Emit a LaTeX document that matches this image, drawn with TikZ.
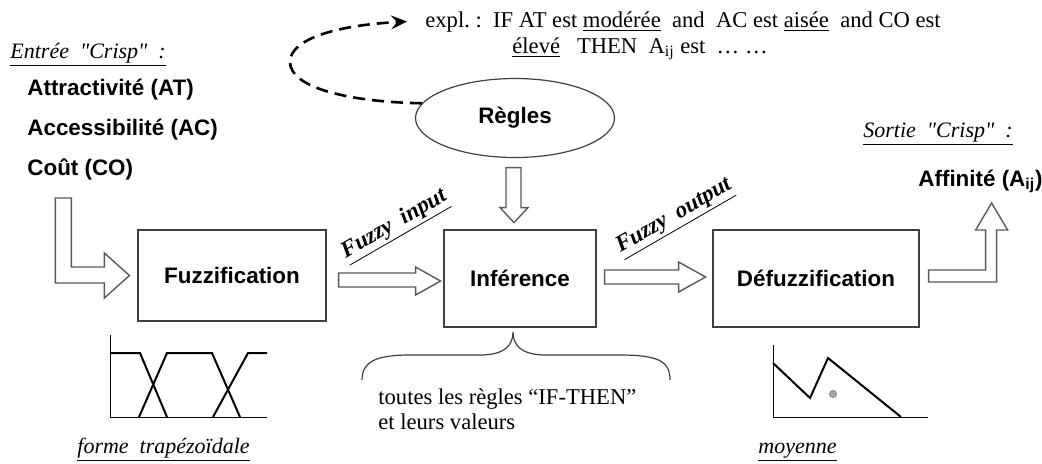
\documentclass[tikz,border=0pt]{standalone}
\usepackage{fontspec}
\setmainfont{Liberation Serif}
\newfontfamily\arialfont{Liberation Sans}
\usetikzlibrary{arrows.meta,calc,shapes.geometric}
\newcommand{\dq}{\XeTeXglyph\XeTeXglyphindex "quotedbl"\relax}

\begin{document}
\begin{tikzpicture}[x=0.5pt, y=-0.5pt,
  procbox/.style={draw=black!75, line width=0.6pt, font=\arialfont\bfseries\fontsize{11.2}{13}\selectfont},
  inlabel/.style={font=\arialfont\bfseries\fontsize{11.2}{13}\selectfont, inner sep=0pt, anchor=base west},
  crisp/.style={font=\itshape\fontsize{11}{13}\selectfont, inner sep=0pt, anchor=base west},
  fuzzy/.style={font=\bfseries\itshape\fontsize{11.5}{13}\selectfont, inner sep=0pt, rotate=30},
  rmtext/.style={font=\fontsize{11.3}{12.5}\selectfont, inner sep=0pt},
  hollow/.style={draw=black!65, line width=0.7pt, fill=white, line join=miter},
  mf/.style={line width=1pt},
  axis/.style={line width=0.5pt}
]
\useasboundingbox (0,0) rectangle (1042,463);

% main blocks
\node[procbox, minimum width=94pt, minimum height=45.5pt] (fuzz) at (232,275.5) {Fuzzification};
\node[procbox, minimum width=76pt, minimum height=48.5pt] (inf) at (520,278.5) {Inférence};
\node[procbox, minimum width=103pt, minimum height=48.5pt] (defuzz) at (816,278.5) {Défuzzification};
\node[procbox, ellipse, minimum width=99.5pt, minimum height=39.5pt] (regles) at (515,118) {Règles};

% crisp input / output
\node[crisp] (entree) at (10,58) {\underline{Entrée~~\dq Crisp\dq~~:}};
\node[inlabel] (at) at (27,95) {Attractivité (AT)};
\node[inlabel] (ac) at (27,135) {Accessibilité (AC)};
\node[inlabel] (co) at (27,175) {Coût (CO)};
\node[crisp] (sortie) at (863,137) {\underline{Sortie~~\dq Crisp\dq~~:}};
\node[inlabel] (aff) at (918,186) {Affinité (A\textsubscript{ij})};

\node[fuzzy] (fin) at (395,226) {\underline{Fuzzy~~input}};
\node[fuzzy] (fout) at (675,218) {\underline{Fuzzy~~output}};

% rule example
\node[rmtext, anchor=base west] (expla) at (425,27) {expl.~:~~IF AT est \underline{modérée}~~and~~AC est \underline{aisée}~~and CO est};
\node[rmtext, anchor=base west] (explb) at (512,53) {\underline{élevé}~~~THEN~~A\textsubscript{ij}~est~~\ldots~\ldots};
\node[rmtext, anchor=north west, align=left] (toutes) at (378,388) {toutes les règles ``IF-THEN''\\et leurs valeurs};
\node[crisp] (forme) at (77,453) {\underline{forme~~trapézoïdale}};
\node[crisp] (moy) at (758,453) {\underline{moyenne}};

% hollow arrows
\draw[hollow] ($(fuzz.west)+(-8,0)$) -- ++(-25,-22.5) -- ++(0,14) -- ++(-33,0) -- ++(0,-69)
  -- ++(-16,0) -- ++(0,85) -- ++(49,0) -- ++(0,15) -- cycle;
\draw[hollow] ($(fuzz.east)+(12,-2.5)$) -- ++(77,0) -- ++(0,-6) -- ++(25,14) -- ++(-25,14)
  -- ++(0,-8) -- ++(-77,0) -- cycle;
\draw[hollow] ($(inf.east)+(8,-8.5)$) -- ++(74,0) -- ++(0,-8) -- ++(27,15) -- ++(-27,15)
  -- ++(0,-8) -- ++(-74,0) -- cycle;
\draw[hollow] ($(defuzz.east)+(9,-8.5)$) -- ++(57,0) -- ++(0,-40) -- ++(-10,0) -- ++(16,-27)
  -- ++(16,27) -- ++(-11,0) -- ++(0,52) -- ++(-68,0) -- cycle;
\draw[hollow] ($(regles.south)+(-9,9.5)$) -- ++(15,0) -- ++(0,40) -- ++(7,0) -- ++(-14,15)
  -- ++(-14,-15) -- ++(6,0) -- cycle;

\draw[line width=1.3pt, dash pattern=on 6pt off 3.5pt, -{Stealth[length=8pt,width=7pt,inset=3pt]}]
  (regles.171) .. controls (350,102) and (290,88) .. (290,62)
  .. controls (290,38) and (340,25) .. ([xshift=-9pt]expla.west);

% brace under the inference block
\draw[draw=black!75, line width=0.6pt] (362,380) .. controls (362,362) and (375,355) .. (410,355)
  -- (480,355) .. controls (505,355) and (513,345) .. (513,332)
  .. controls (513,345) and (521,355) .. (546,355) -- (620,355)
  .. controls (660,355) and (670,362) .. (670,380);

% trapezoidal membership functions
\draw[axis] (110,335) -- (110,417) -- (267,417);
\draw[mf] (110,353) -- (140,353) -- (167,417);
\draw[mf] (139,417) -- (167,353) -- (212,353) -- (240,417);
\draw[mf] (213,417) -- (248,353) -- (267,353);

% centroid
\draw[axis] (773,345) -- (773,417) -- (928,417);
\draw[mf] (773,363) -- (810,398) -- (828,358) -- (901,417);
\filldraw[fill=black!35, draw=black!50, line width=0.4pt] (833,394) circle (3.5);

\end{tikzpicture}
\end{document}
